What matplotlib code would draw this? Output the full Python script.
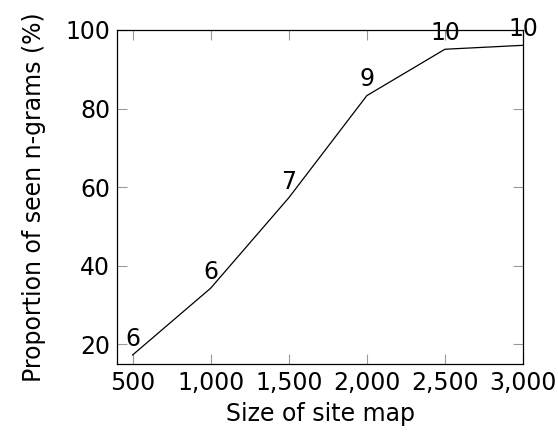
import matplotlib
matplotlib.use('Agg')
import matplotlib.pyplot as plt
from matplotlib.ticker import FuncFormatter

sizes = [500, 1000, 1500, 2000, 2500, 3000]
seen_pct = [17.3, 34.3, 57.3, 83.3, 95.1, 96.1]
point_labels = ['6', '6', '7', '9', '10', '10']
x_ticks = [500, 1000, 1500, 2000, 2500, 3000]
y_ticks = [20, 40, 60, 80, 100]

plt.rcParams['font.family'] = 'DejaVu Sans'
plt.rcParams['font.size'] = 17

fig = plt.figure(figsize=(5.58, 4.41), dpi=100)
ax = fig.add_axes([0.2097, 0.1746, 0.7276, 0.7574])

ax.plot(sizes, seen_pct, color='black', linewidth=0.9)
for x, y, lab in zip(sizes, seen_pct, point_labels):
    ax.annotate(lab, (x, y), xytext=(0, 3), textcoords='offset points',
                ha='center', va='bottom', fontsize=17)

ax.set_xlim(400, 3000)
ax.set_ylim(15, 100)
ax.set_xticks(x_ticks)
ax.set_yticks(y_ticks)
ax.xaxis.set_major_formatter(FuncFormatter(lambda v, p: f'{int(v):,}'))
ax.tick_params(direction='in', length=7, width=0.8, color='#999999',
               top=True, right=True, pad=5)
for s in ax.spines.values():
    s.set_linewidth(0.9)

ax.set_xlabel('Size of site map', labelpad=5)
ax.set_ylabel('Proportion of seen n-grams (%)', labelpad=14)

plt.savefig('out.png')
plt.close()
